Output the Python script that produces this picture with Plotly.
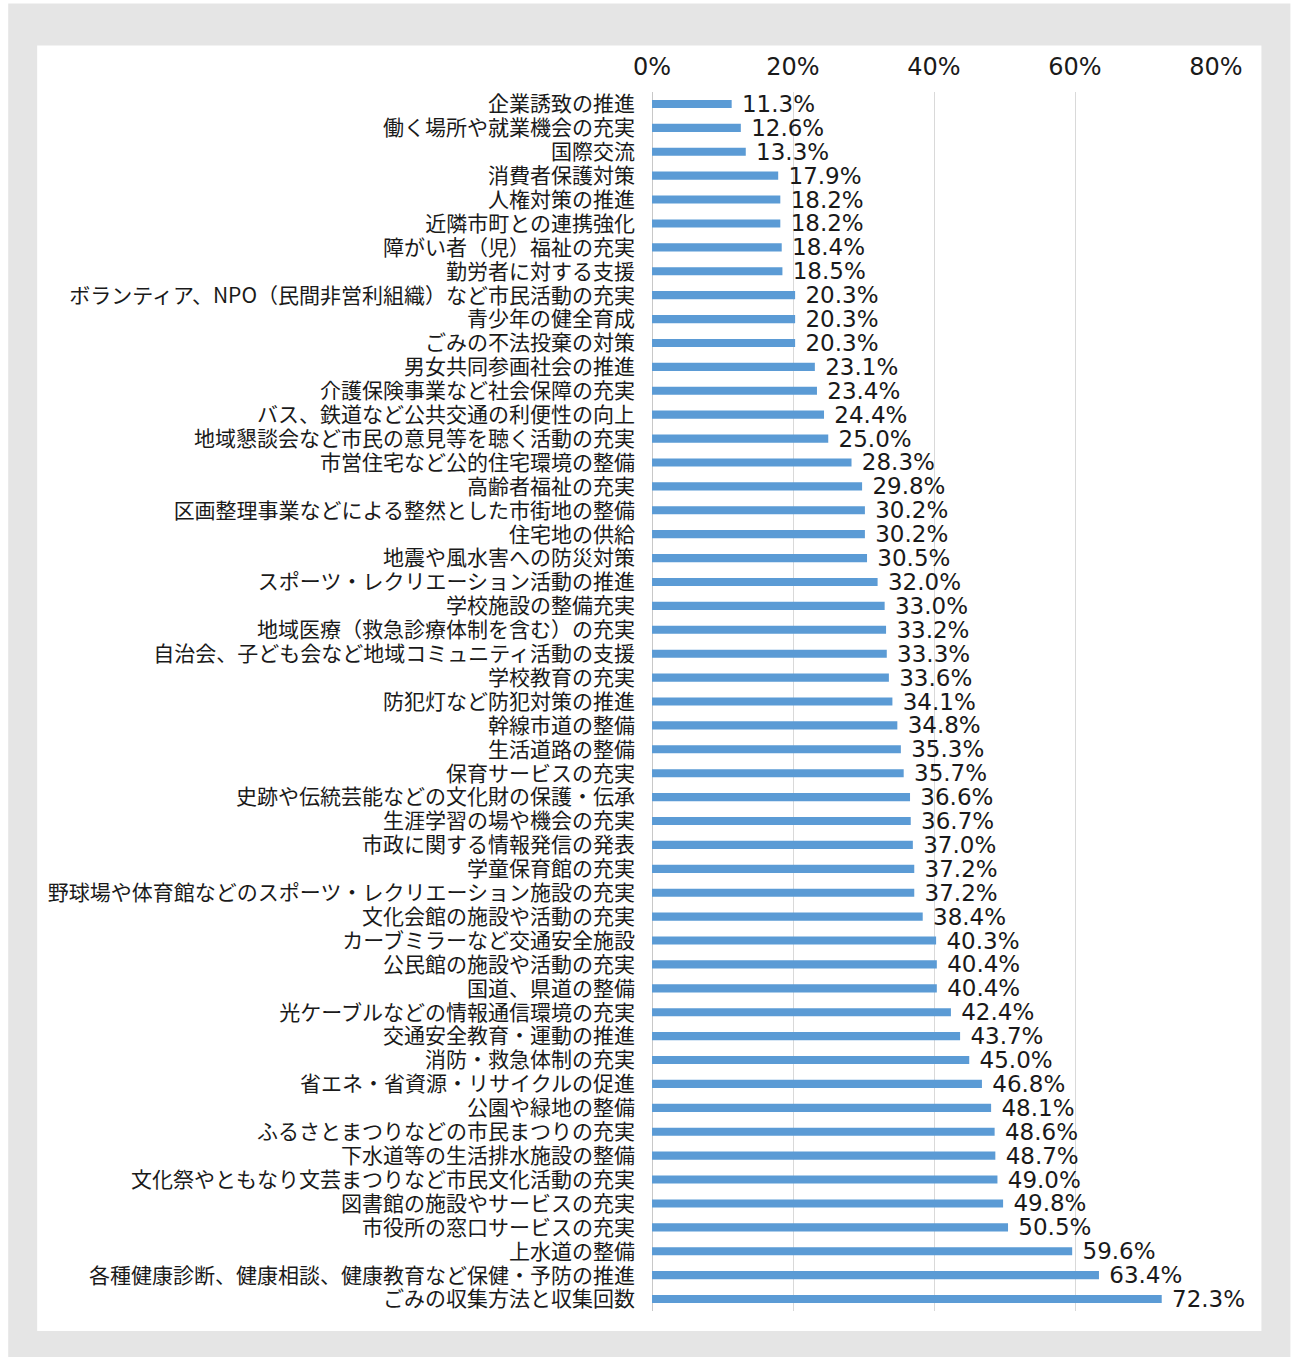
import plotly.graph_objects as go

categories = [
    "企業誘致の推進", "働く場所や就業機会の充実", "国際交流", "消費者保護対策", "人権対策の推進",
    "近隣市町との連携強化", "障がい者（児）福祉の充実", "勤労者に対する支援",
    "ボランティア、NPO（民間非営利組織）など市民活動の充実", "青少年の健全育成", "ごみの不法投棄の対策",
    "男女共同参画社会の推進", "介護保険事業など社会保障の充実", "バス、鉄道など公共交通の利便性の向上",
    "地域懇談会など市民の意見等を聴く活動の充実", "市営住宅など公的住宅環境の整備", "高齢者福祉の充実",
    "区画整理事業などによる整然とした市街地の整備", "住宅地の供給", "地震や風水害への防災対策",
    "スポーツ・レクリエーション活動の推進", "学校施設の整備充実", "地域医療（救急診療体制を含む）の充実",
    "自治会、子ども会など地域コミュニティ活動の支援", "学校教育の充実", "防犯灯など防犯対策の推進",
    "幹線市道の整備", "生活道路の整備", "保育サービスの充実", "史跡や伝統芸能などの文化財の保護・伝承",
    "生涯学習の場や機会の充実", "市政に関する情報発信の発表", "学童保育館の充実",
    "野球場や体育館などのスポーツ・レクリエーション施設の充実", "文化会館の施設や活動の充実",
    "カーブミラーなど交通安全施設", "公民館の施設や活動の充実", "国道、県道の整備",
    "光ケーブルなどの情報通信環境の充実", "交通安全教育・運動の推進", "消防・救急体制の充実",
    "省エネ・省資源・リサイクルの促進", "公園や緑地の整備", "ふるさとまつりなどの市民まつりの充実",
    "下水道等の生活排水施設の整備", "文化祭やともなり文芸まつりなど市民文化活動の充実",
    "図書館の施設やサービスの充実", "市役所の窓口サービスの充実", "上水道の整備",
    "各種健康診断、健康相談、健康教育など保健・予防の推進", "ごみの収集方法と収集回数",
]
values = [
    11.3, 12.6, 13.3, 17.9, 18.2, 18.2, 18.4, 18.5, 20.3, 20.3, 20.3, 23.1, 23.4, 24.4, 25.0,
    28.3, 29.8, 30.2, 30.2, 30.5, 32.0, 33.0, 33.2, 33.3, 33.6, 34.1, 34.8, 35.3, 35.7, 36.6,
    36.7, 37.0, 37.2, 37.2, 38.4, 40.3, 40.4, 40.4, 42.4, 43.7, 45.0, 46.8, 48.1, 48.6, 48.7,
    49.0, 49.8, 50.5, 59.6, 63.4, 72.3,
]
x_ticks = [0, 20, 40, 60, 80]
x_tick_labels = ["0%", "20%", "40%", "60%", "80%"]

W, H = 1297, 1357
L, R, T, B = 651.7, 1216.5, 92.4, 1311.0
FONT = "Noto Sans CJK JP, sans-serif"
NUM_FONT = "DejaVu Sans, sans-serif"


def px_x(p):
    return (p - L) / (R - L)


def px_y(p):
    return (B - p) / (B - T)


fig = go.Figure(go.Bar(
    x=values, y=categories, orientation="h",
    marker=dict(color="#5B9BD5", line=dict(width=0)),
    width=0.34,
    text=["\u00a0" + f"{v:.1f}%" for v in values],
    textposition="outside", constraintext="none", cliponaxis=False,
    textfont=dict(family=NUM_FONT, size=23, color="#1a1a1a"),
    hoverinfo="skip",
))

fig.update_layout(
    width=W, height=H,
    margin=dict(l=L, r=W - R, t=T, b=H - B, pad=0),
    paper_bgcolor="white", plot_bgcolor="rgba(0,0,0,0)",
    showlegend=False,
    font=dict(family=FONT, color="#1a1a1a"),
    shapes=[
        dict(type="rect", xref="paper", yref="paper", layer="below",
             x0=px_x(7), x1=px_x(1291), y0=px_y(1357), y1=px_y(4),
             fillcolor="#e5e5e5", line=dict(width=0)),
        dict(type="rect", xref="paper", yref="paper", layer="below",
             x0=px_x(36), x1=px_x(1262), y0=px_y(1331), y1=px_y(46),
             fillcolor="white", line=dict(width=0)),
    ],
)
fig.update_xaxes(
    side="top", range=[0, 80], tickvals=x_ticks, ticktext=x_tick_labels,
    showgrid=True, gridcolor="#d9d9d9", gridwidth=1,
    zeroline=True, zerolinecolor="#c8c8c8", zerolinewidth=1,
    showline=False, ticks="", tickfont=dict(size=24, family=NUM_FONT, color="#1a1a1a"),
    ticklabelstandoff=11, fixedrange=True,
)
fig.update_yaxes(
    autorange="reversed", tickmode="array", tickvals=categories, ticktext=categories,
    showgrid=False, zeroline=False, showline=False, ticks="",
    tickfont=dict(size=21, family=FONT, color="#1a1a1a"), ticklabelstandoff=16,
    fixedrange=True,
)

fig.write_html("out.html")
